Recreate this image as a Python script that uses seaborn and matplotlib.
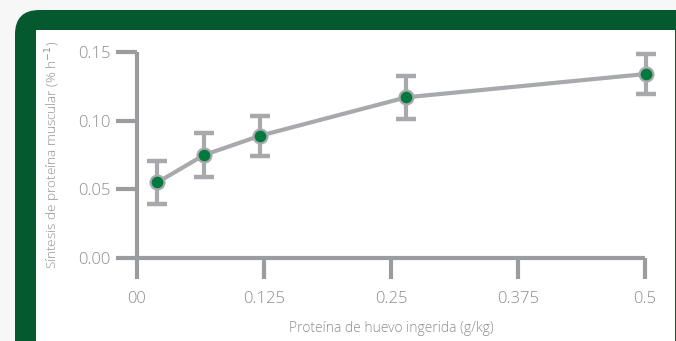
import matplotlib
matplotlib.use("Agg")
import matplotlib.pyplot as plt
from matplotlib.patches import FancyBboxPatch, Rectangle
import seaborn as sns
import pandas as pd

# Egg protein intake (g/kg) vs. muscle protein synthesis (% h^-1)
dose = [0.020, 0.066, 0.121, 0.265, 0.501]
fsr = [0.055, 0.075, 0.089, 0.117, 0.134]
sem = [0.0157, 0.0157, 0.0146, 0.0155, 0.0145]
x_ticks = [0, 0.125, 0.25, 0.375, 0.5]
x_tick_labels = ["00", "0.125", "0.25", "0.375", "0.5"]
y_ticks = [0.00, 0.05, 0.10, 0.15]
y_tick_labels = ["0.00", "0.05", "0.10", "0.15"]

df = pd.DataFrame({"dose": dose, "fsr": fsr})

sns.set_theme(style="white")
plt.rcParams["font.family"] = ["Open Sans", "DejaVu Sans"]
plt.rcParams["mathtext.fontset"] = "dejavusans"

GREEN = "#04592f"
GRAY = "#a7a9ac"
AXGRAY = "#9b9c9f"
TXT = "#8d8d8d"

W, H = 676, 341
fig = plt.figure(figsize=(W / 100, H / 100), dpi=100)
fig.patch.set_facecolor("#f7f7f7")

# Rounded green card with a white panel inside
card = FancyBboxPatch((15 / W, -0.2), (W + 40) / W, (H - 10) / H + 0.2,
                      boxstyle="round,pad=0,rounding_size=0.036",
                      transform=fig.transFigure, facecolor=GREEN,
                      edgecolor="none", mutation_aspect=W / H, zorder=0)
fig.patches.append(card)
panel = Rectangle((36 / W, 0), (675 - 36) / W, (H - 30) / H,
                  transform=fig.transFigure, facecolor="white",
                  edgecolor="none", zorder=0.5)
fig.patches.append(panel)

ax = fig.add_axes([137 / W, (H - 258) / H, 508 / W, 206 / H])
ax.set_zorder(2)
ax.set_facecolor("none")

ax.errorbar(dose, fsr, yerr=sem, fmt="none", ecolor=GRAY, elinewidth=3,
            capsize=7, capthick=3.2, zorder=3, clip_on=False)
sns.lineplot(data=df, x="dose", y="fsr", ax=ax, color=GRAY, linewidth=3,
             marker="o", markersize=10, markerfacecolor="#037a3d",
             markeredgecolor=GRAY, markeredgewidth=1.6, zorder=4,
             clip_on=False)

ax.set_xlim(0, 0.5)
ax.set_ylim(0, 0.15)
ax.set_xticks(x_ticks)
ax.set_xticklabels(x_tick_labels)
ax.set_yticks(y_ticks)
ax.set_yticklabels(y_tick_labels)

for s in ["top", "right"]:
    ax.spines[s].set_visible(False)
for s in ["left", "bottom"]:
    ax.spines[s].set_color(AXGRAY)
    ax.spines[s].set_linewidth(3)
    ax.spines[s].set_capstyle("butt")

ax.tick_params(axis="both", direction="out", length=15, width=3,
               color=AXGRAY, labelcolor=TXT, labelsize=12,
               bottom=True, left=True)
ax.tick_params(axis="x", pad=8.5)
ax.tick_params(axis="y", pad=4)
for lab in ax.get_xticklabels() + ax.get_yticklabels():
    lab.set_fontweight("light")

ax.set_xlabel("Proteína de huevo ingerida (g/kg)", color=TXT, fontsize=10,
              fontweight="light", labelpad=10)
ax.set_ylabel("Síntesis de proteína muscular (% h$^{-1}$)", color=TXT,
              fontsize=9.7, fontweight="light", labelpad=11)

fig.savefig("out.png", dpi=100, facecolor=fig.get_facecolor())
